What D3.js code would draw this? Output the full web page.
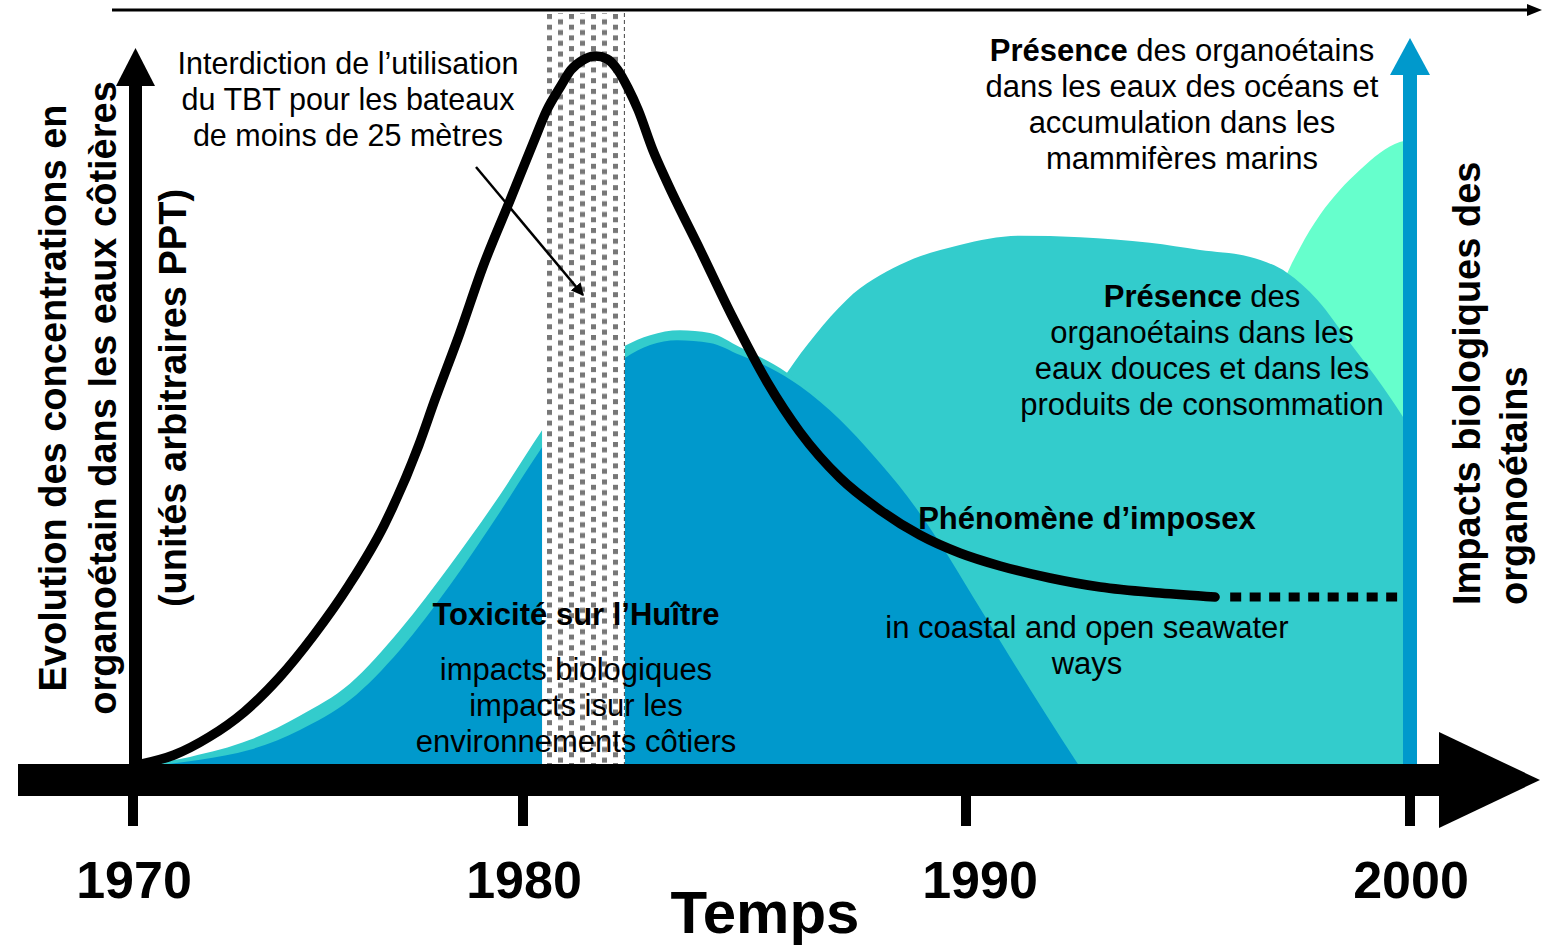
<!DOCTYPE html>
<html>
<head>
<meta charset="utf-8">
<script src="https://cdn.jsdelivr.net/npm/d3@7"></script>
<style>
html,body{margin:0;padding:0;background:#fff;}
svg{display:block;}
text{font-family:"Liberation Sans",Arial,Helvetica,sans-serif;fill:#000;}
</style>
</head>
<body>
<svg id="chart" width="1553" height="947"></svg>
<script>
// ---------- data (year, arbitrary units 0-100) ----------
const tickYears = [1970, 1980, 1990, 2000];
const tickLabels = ["1970", "1980", "1990", "2000"];

// black curve: organotin concentration in coastal waters
const concentration = [
  [1970.23,0],[1971.05,1.27],[1971.95,3.80],[1972.85,7.32],[1973.74,12.11],[1974.64,18.17],
  [1975.54,25.21],[1976.44,33.66],[1977.33,44.93],[1977.74,51.27],[1978.38,60.70],[1978.97,70.0],
  [1979.67,79.44],[1980.23,87.46],[1980.54,92.11],[1980.84,95.35],[1981.08,97.75],[1981.35,99.15],
  [1981.63,99.72],[1981.90,99.30],[1982.14,97.75],[1982.37,95.21],[1982.60,92.11],[1982.93,86.48],
  [1983.25,81.97],[1984.00,72.39],[1984.74,62.82],[1985.51,53.80],[1986.25,46.76],[1987.16,40.28],
  [1988.06,35.77],[1988.96,32.25],[1989.86,29.72],[1990.77,27.89],[1991.89,26.20],[1993.02,24.93],
  [1994.37,24.08],[1995.61,23.52]
];
// dotted continuation
const concentrationTrend = [[1995.95,23.52],[1999.71,23.52]];

// dark blue: oyster toxicity / coastal impacts
const oysterImpact = [
  [1970.90,0],[1971.72,0.6],[1973.00,2.0],[1974.28,4.8],[1975.56,9.0],[1976.85,16.1],
  [1978.13,25.2],[1979.41,35.5],[1980.43,44.6],[1981.29,52.0],[1982.30,57.2],[1982.87,59.0],
  [1983.48,59.7],[1984.22,59.3],[1984.90,57.6],[1985.58,55.77],[1986.25,53.24],[1987.16,48.45],
  [1987.90,43.52],[1988.67,37.75],[1989.41,31.13],[1990.16,23.52],[1990.99,15.07],[1991.78,7.18],
  [1992.52,0]
];
// teal: imposex in coastal and open seawater
const imposexImpact = [
  [1970.44,0],[1971.46,1.0],[1973.00,3.4],[1974.28,6.8],[1975.56,11.3],[1976.85,18.9],
  [1978.13,28.0],[1979.41,37.9],[1980.43,47.0],[1981.29,54.4],[1982.30,58.9],[1982.87,60.4],
  [1983.54,61.1],[1984.22,60.7],[1984.90,58.7],[1985.96,55.1],[1987.16,48.5],[1988.51,38.6],
  [1990.77,16.1],[1991.89,0]
];
// teal: presence in fresh waters and consumer products
const freshwaterPresence = [
  [1984.45,0],[1985.01,37.2],[1985.46,49.9],[1985.96,55.1],[1986.59,60.4],[1987.31,65.4],
  [1988.51,70.3],[1989.86,73.1],[1991.22,74.4],[1992.57,74.2],[1994.14,73.4],[1995.27,72.4],
  [1996.40,71.4],[1997.23,69.2],[1997.91,65.4],[1998.65,59.3],[1999.39,53.1],[1999.84,48.9],
  [2000.0,47.3]
];
// light green: presence in oceans and marine mammals
const oceanPresence = [
  [1996.17,0],[1996.85,61.13],[1997.18,68.17],[1997.52,72.68],[1997.97,77.32],[1998.42,80.85],
  [1998.87,83.66],[1999.32,86.06],[1999.77,87.61],[2000.0,87.89]
];
// TBT ban period (hatched band)
const banPeriod = [1980.43, 1982.30];

// text content
const banNote = ["Interdiction de l\u2019utilisation", "du TBT pour les bateaux", "de moins de 25 m\u00e8tres"];
const oceanNote = [["Pr\u00e9sence", " des organo\u00e9tains"], ["", "dans les eaux des oc\u00e9ans et"], ["", "accumulation dans les"], ["", "mammif\u00e8res marins"]];
const freshNote = [["Pr\u00e9sence", " des"], ["", "organo\u00e9tains dans les"], ["", "eaux douces et dans les"], ["", "produits de consommation"]];
const imposexTitle = "Ph\u00e9nom\u00e8ne d\u2019imposex";
const imposexNote = ["in coastal and open seawater", "ways"];
const oysterTitle = "Toxicit\u00e9 sur l\u2019Hu\u00eetre";
const oysterNote = ["impacts biologiques", "impacts isur les", "environnements c\u00f4tiers"];
const yLabelLeft = ["Evolution des concentrations en", "organo\u00e9tain dans les eaux c\u00f4ti\u00e8res", "(unit\u00e9s arbitraires PPT)"];
const yLabelRight = ["Impacts biologiques des", "organo\u00e9tains"];
const xTitle = "Temps";

// ---------- drawing ----------
const svg = d3.select("#chart");
const x = d3.scaleLinear().domain(tickYears).range([133, 523, 966, 1410]);
const y = d3.scaleLinear().domain([0, 100]).range([764, 54]);

const C_DARK = "#0099CC", C_TEAL = "#33CCCC", C_GREEN = "#66FFCC";

const area = d3.area().x(d => x(d[0])).y0(y(0)).y1(d => y(d[1])).curve(d3.curveMonotoneX);
const line = d3.line().x(d => x(d[0])).y(d => y(d[1])).curve(d3.curveMonotoneX);

const defs = svg.append("defs");
const pat = defs.append("pattern").attr("id", "hatch").attr("patternUnits", "userSpaceOnUse")
  .attr("x", 547).attr("y", 14).attr("width", 22).attr("height", 10.7);
pat.append("rect").attr("x", 0).attr("y", 0).attr("width", 5).attr("height", 5).attr("fill", "#777");
pat.append("rect").attr("x", 11).attr("y", 5.35).attr("width", 5).attr("height", 5).attr("fill", "#777");

defs.append("marker").attr("id", "arrowSmall").attr("viewBox", "0 0 10 10").attr("refX", 9).attr("refY", 5)
  .attr("markerWidth", 5).attr("markerHeight", 5).attr("orient", "auto").attr("markerUnits", "strokeWidth")
  .append("path").attr("d", "M0,0 L10,5 L0,10 z").attr("fill", "#000");

// areas
svg.append("path").datum(oceanPresence).attr("d", area).attr("fill", C_GREEN);
svg.append("path").datum(freshwaterPresence).attr("d", area).attr("fill", C_TEAL);
svg.append("path").datum(imposexImpact).attr("d", area).attr("fill", C_TEAL);
svg.append("path").datum(oysterImpact).attr("d", area).attr("fill", C_DARK);

// hatched ban band
const bx0 = x(banPeriod[0]), bx1 = x(banPeriod[1]);
svg.append("rect").attr("x", bx0).attr("y", 13).attr("width", bx1 - bx0).attr("height", y(0) - 13).attr("fill", "#fff");
svg.append("rect").attr("x", bx0).attr("y", 13).attr("width", bx1 - bx0 - 2).attr("height", y(0) - 13).attr("fill", "url(#hatch)");
svg.append("line").attr("x1", bx1 - 0.5).attr("x2", bx1 - 0.5).attr("y1", 13).attr("y2", y(0))
  .attr("stroke", "#444").attr("stroke-width", 1).attr("stroke-dasharray", "4,3");

// texts in plot
function centeredLines(lines, cx, by, step, size, weight) {
  const g = svg.append("g");
  lines.forEach((t, i) => {
    g.append("text").attr("x", cx).attr("y", by + i * step).attr("text-anchor", "middle")
      .attr("font-size", size).attr("font-weight", weight).text(t);
  });
}
function mixedLines(lines, cx, by, step, size) {
  lines.forEach((p, i) => {
    const t = svg.append("text").attr("x", cx).attr("y", by + i * step).attr("text-anchor", "middle").attr("font-size", size);
    if (p[0]) t.append("tspan").attr("font-weight", "bold").text(p[0]);
    t.append("tspan").text(p[1]);
  });
}
centeredLines(banNote, 348, 74, 36, 30.5, "normal");
mixedLines(oceanNote, 1182, 61, 36, 31);
mixedLines(freshNote, 1202, 307, 36, 31);
centeredLines([imposexTitle], 1087, 529, 36, 31, "bold");
centeredLines(imposexNote, 1087, 638, 36, 31, "normal");
centeredLines([oysterTitle], 576, 625, 36, 31, "bold");
centeredLines(oysterNote, 576, 680, 36, 31, "normal");

// annotation arrow
svg.append("line").attr("x1", 476).attr("y1", 167).attr("x2", 583).attr("y2", 295)
  .attr("stroke", "#000").attr("stroke-width", 2.5).attr("marker-end", "url(#arrowSmall)");

// concentration curve
svg.append("path").datum(concentration).attr("d", line).attr("fill", "none")
  .attr("stroke", "#000").attr("stroke-width", 9.5).attr("stroke-linecap", "round");
svg.append("path").datum(concentrationTrend).attr("d", line).attr("fill", "none")
  .attr("stroke", "#000").attr("stroke-width", 9).attr("stroke-dasharray", "11,8.5");

// top time arrow
svg.append("line").attr("x1", 112).attr("x2", 1530).attr("y1", 10).attr("y2", 10).attr("stroke", "#000").attr("stroke-width", 3);
svg.append("path").attr("d", "M1527,4 L1542,10 L1527,16 Z").attr("fill", "#000");

// left vertical arrow
svg.append("rect").attr("x", 129).attr("y", 84).attr("width", 13).attr("height", y(0) - 84).attr("fill", "#000");
svg.append("path").attr("d", "M135.5,48 L155,86 L116,86 Z").attr("fill", "#000");

// right blue arrow
svg.append("rect").attr("x", 1403).attr("y", 74).attr("width", 14).attr("height", y(0) - 74).attr("fill", C_DARK);
svg.append("path").attr("d", "M1410,38 L1430,75 L1390,75 Z").attr("fill", C_DARK);

// x axis bar + arrow head
svg.append("rect").attr("x", 18).attr("y", 764).attr("width", 1423).attr("height", 32).attr("fill", "#000");
svg.append("path").attr("d", "M1439,732 L1540,780 L1439,828 Z").attr("fill", "#000");

// ticks
svg.selectAll(".tick").data(tickYears).enter().append("rect")
  .attr("x", d => x(d) - 5).attr("y", 795).attr("width", 10).attr("height", 31).attr("fill", "#000");
svg.selectAll(".tlab").data(tickYears).enter().append("text")
  .attr("x", (d, i) => x(d) + (d === 1990 ? 14 : 1)).attr("y", 898).attr("text-anchor", "middle")
  .attr("font-size", 52).attr("font-weight", "bold").text((d, i) => tickLabels[i]);

svg.append("text").attr("x", 765).attr("y", 933).attr("text-anchor", "middle")
  .attr("font-size", 60).attr("font-weight", "bold").text(xTitle);

// y labels (rotated)
[66, 116, 186].forEach((bx, i) => {
  svg.append("text").attr("transform", `translate(${bx},398) rotate(-90)`).attr("text-anchor", "middle")
    .attr("font-size", 38).attr("font-weight", "bold").text(yLabelLeft[i]);
});
[1480, 1527].forEach((bx, i) => {
  svg.append("text").attr("transform", `translate(${bx},605) rotate(-90)`).attr("text-anchor", "start")
    .attr("font-size", 38).attr("font-weight", "bold").text(yLabelRight[i]);
});
</script>
</body>
</html>
